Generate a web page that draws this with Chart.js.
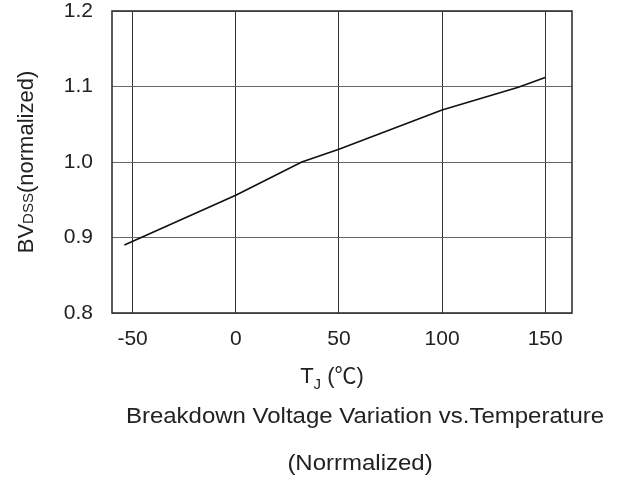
<!DOCTYPE html>
<html>
<head>
<meta charset="utf-8">
<script src="https://cdn.jsdelivr.net/npm/chart.js@4/dist/chart.umd.min.js"></script>
<style>
  html, body { margin: 0; padding: 0; background: #fff; }
  #wrap { width: 619px; height: 479px; }
</style>
</head>
<body>
<div id="wrap"><canvas id="chart" width="619" height="479"></canvas></div>
<script>
// values
var tempC = [-54, 0, 32, 50, 100, 137, 150];
var bvdss = [0.890, 0.956, 1.000, 1.017, 1.069, 1.099, 1.112];

var xTicks = [-50, 0, 50, 100, 150];
var yTicks = [0.8, 0.9, 1.0, 1.1, 1.2];

var yTitle = ['BV', 'DSS', '(normalized)'];
var xTitle = ['T', 'J', ' (\u2103)'];
var caption1 = 'Breakdown Voltage Variation vs.Temperature';
var caption2 = '(Norrmalized)';

var FONT = "'Liberation Sans', Arial, 'Noto Sans CJK SC', sans-serif";
var TEXT = '#222';

var textPlugin = {
  id: 'texts',
  afterDraw: function(chart) {
    var ctx = chart.ctx,
      a = chart.chartArea,
      cx = (a.left + a.right) / 2,
      cy = (a.top + a.bottom) / 2,
      w1, w2, w3, x;

    ctx.save();
    // frame round the plot
    ctx.strokeStyle = '#333';
    ctx.lineWidth = 1.6;
    ctx.strokeRect(a.left, a.top, a.right - a.left, a.bottom - a.top);

    ctx.fillStyle = TEXT;
    ctx.textBaseline = 'alphabetic';
    ctx.textAlign = 'left';

    // y title, rotated, with DSS as a small subscript
    ctx.font = '22px ' + FONT;
    w1 = ctx.measureText(yTitle[0]).width;
    w3 = ctx.measureText(yTitle[2]).width;
    ctx.font = '15px ' + FONT;
    w2 = ctx.measureText(yTitle[1]).width;
    ctx.save();
    ctx.translate(33, cy);
    ctx.rotate(-Math.PI / 2);
    x = -(w1 + w2 + w3) / 2;
    ctx.font = '22px ' + FONT;
    ctx.fillText(yTitle[0], x, 0);
    ctx.font = '15px ' + FONT;
    ctx.fillText(yTitle[1], x + w1, 0);
    ctx.font = '22px ' + FONT;
    ctx.fillText(yTitle[2], x + w1 + w2, 0);
    ctx.restore();

    // x title T_J (C)
    ctx.font = '22px ' + FONT;
    w1 = ctx.measureText(xTitle[0]).width;
    w3 = ctx.measureText(xTitle[2]).width;
    ctx.font = '15px ' + FONT;
    w2 = ctx.measureText(xTitle[1]).width;
    x = cx - 10 - (w1 + w2 + w3) / 2;
    ctx.font = '22px ' + FONT;
    ctx.fillText(xTitle[0], x, a.bottom + 70);
    ctx.font = '15px ' + FONT;
    ctx.fillText(xTitle[1], x + w1, a.bottom + 76);
    ctx.font = '22px ' + FONT;
    ctx.fillText(xTitle[2], x + w1 + w2, a.bottom + 70);

    // captions under the chart, a little wider like the source
    ctx.font = '22px ' + FONT;
    ctx.textAlign = 'center';
    ctx.save();
    ctx.translate(cx + 23, a.bottom + 110);
    ctx.scale(1.09, 1);
    ctx.fillText(caption1, 0, 0);
    ctx.restore();
    ctx.save();
    ctx.translate(cx + 18, a.bottom + 157);
    ctx.scale(1.09, 1);
    ctx.fillText(caption2, 0, 0);
    ctx.restore();
    ctx.restore();
  }
};

var ctx = document.getElementById('chart').getContext('2d');

new Chart(ctx, {
  type: 'line',
  data: {
    datasets: [{
      data: tempC.map(function(t, i) { return { x: t, y: bvdss[i] }; }),
      borderColor: '#111',
      borderWidth: 1.6,
      pointRadius: 0,
      tension: 0,
      fill: false
    }]
  },
  options: {
    responsive: false,
    animation: false,
    devicePixelRatio: 1,
    layout: { padding: { left: 0, right: 47, top: 11, bottom: 0 } },
    plugins: {
      legend: { display: false },
      tooltip: { enabled: false }
    },
    scales: {
      x: {
        type: 'linear',
        min: -60,
        max: 163,
        afterBuildTicks: function(scale) {
          scale.ticks = xTicks.map(function(v) { return { value: v }; });
        },
        afterFit: function(scale) {
          scale.height = 166;
          scale.paddingLeft = 0;
          scale.paddingRight = 0;
        },
        grid: { color: '#333', lineWidth: 1, drawTicks: false },
        border: { display: false },
        ticks: {
          autoSkip: false,
          maxRotation: 0,
          padding: 16,
          color: TEXT,
          font: { family: FONT, size: 21, lineHeight: 1 },
          callback: function(v) { return String(v); }
        }
      },
      y: {
        type: 'linear',
        min: 0.8,
        max: 1.2,
        afterBuildTicks: function(scale) {
          scale.ticks = yTicks.map(function(v) { return { value: v }; });
        },
        afterFit: function(scale) {
          scale.width = 112;
          scale.paddingTop = 0;
          scale.paddingBottom = 0;
        },
        grid: { color: '#666', lineWidth: 1, drawTicks: false },
        border: { display: false },
        ticks: {
          padding: 19,
          color: TEXT,
          font: { family: FONT, size: 21, lineHeight: 1 },
          callback: function(v) { return Number(v).toFixed(1); }
        }
      }
    }
  },
  plugins: [textPlugin]
});
</script>
</body>
</html>
